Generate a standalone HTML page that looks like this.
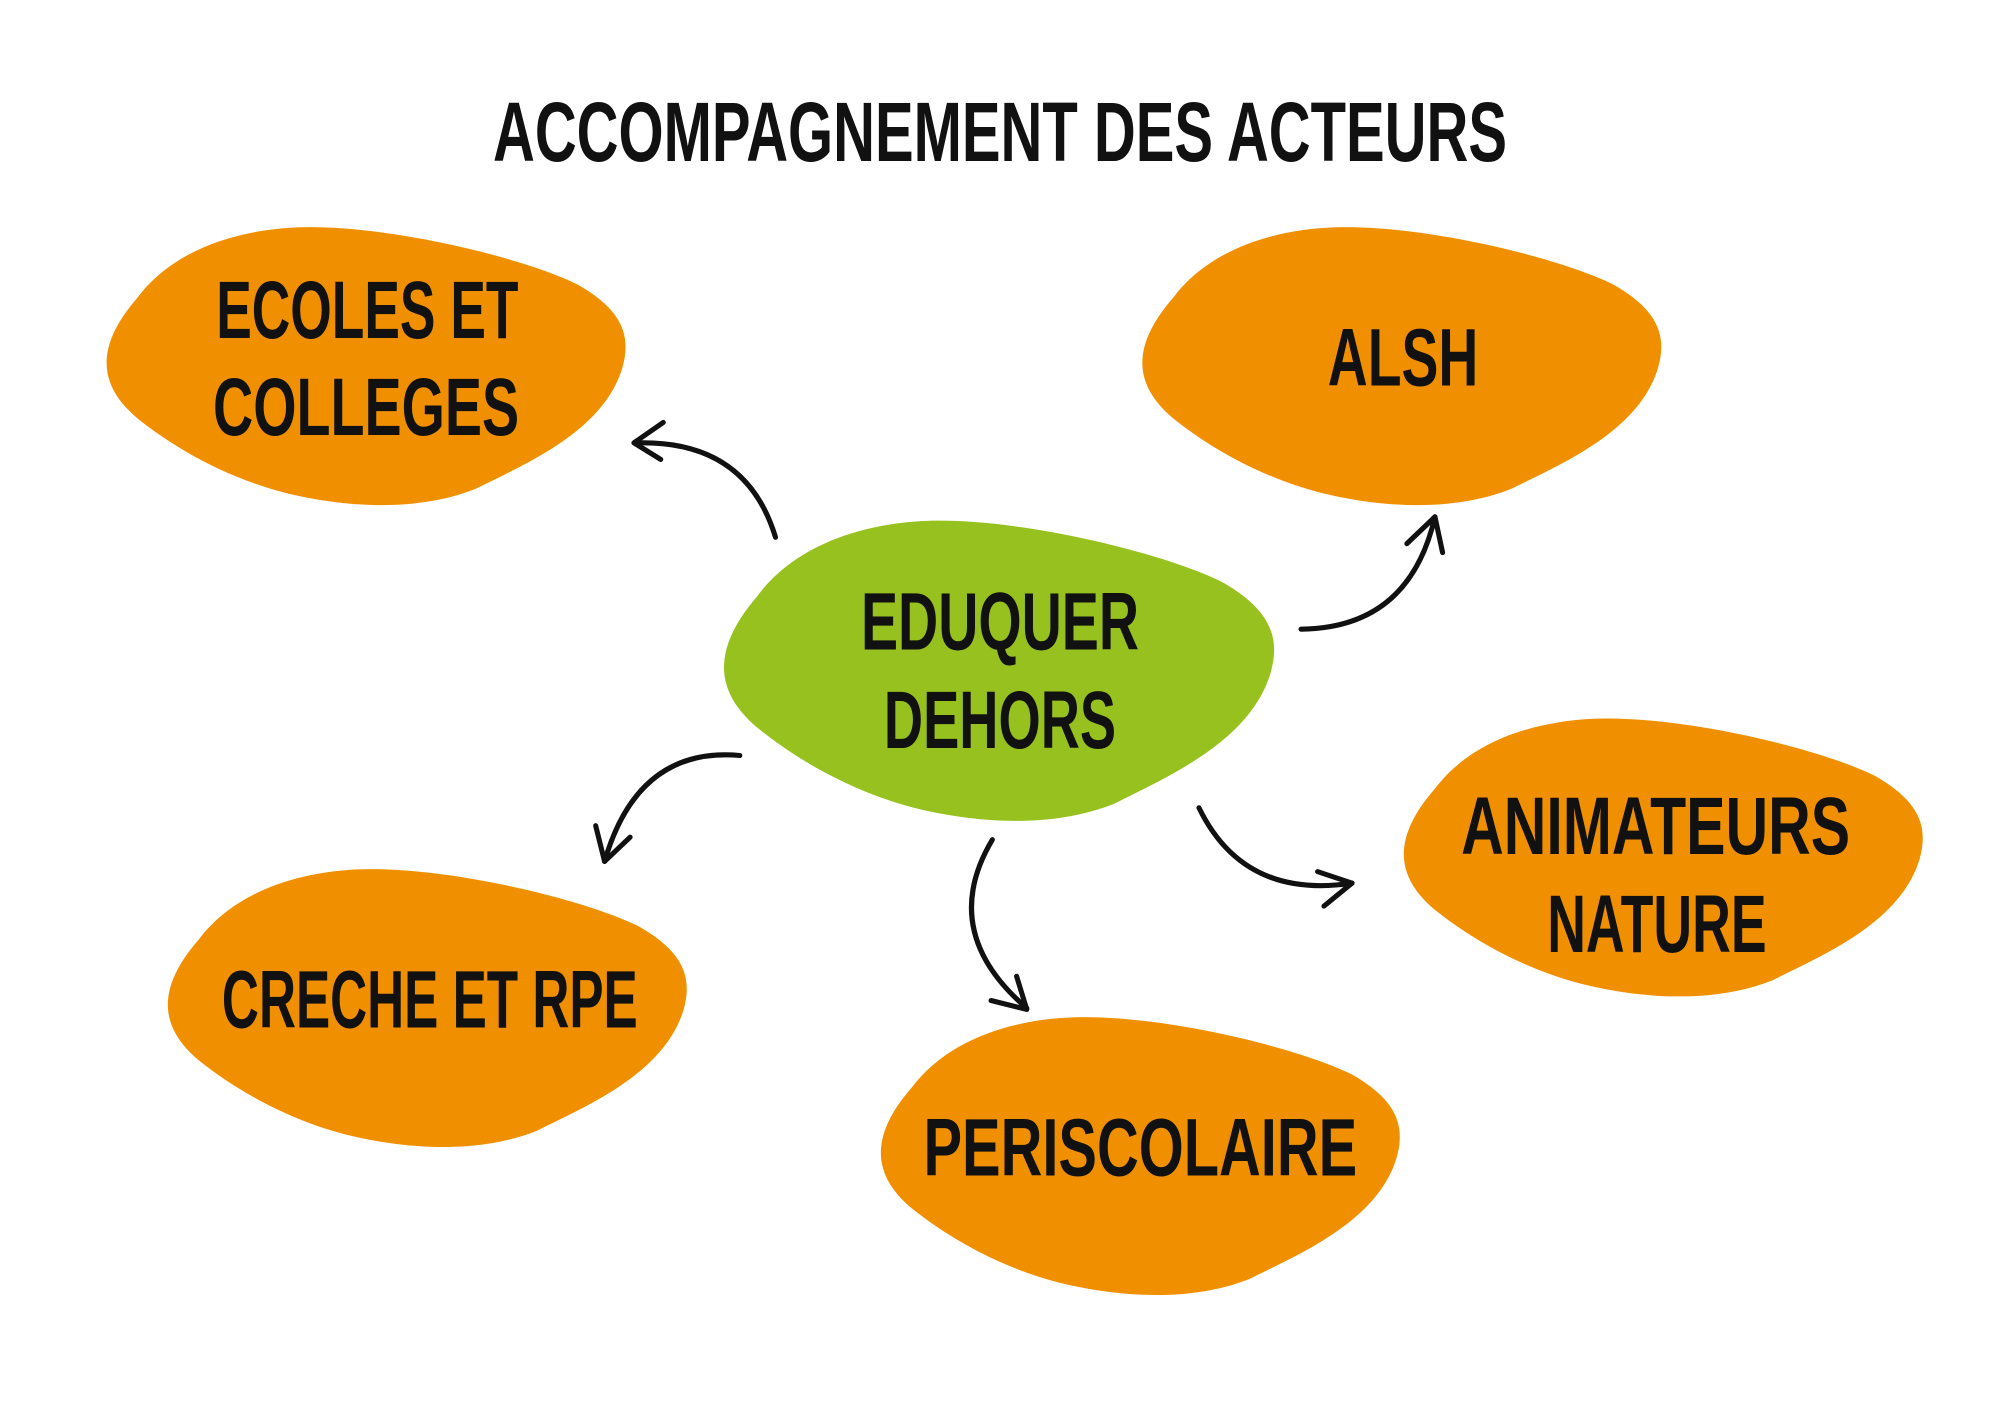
<!DOCTYPE html>
<html><head><meta charset="utf-8"><style>
html,body{margin:0;padding:0;background:#fff;width:2000px;height:1414px;overflow:hidden}
svg{display:block}
text{font-family:"Liberation Sans",sans-serif;font-weight:bold;fill:#111;text-anchor:middle}
</style></head><body>
<svg width="2000" height="1414" viewBox="0 0 1568 1108" preserveAspectRatio="none" xmlns="http://www.w3.org/2000/svg">
<defs>
<path id="blob" d="M 25,55 C 55,15 110,0 160,0 C 230,0 330,25 370,45 C 405,65 412,85 405,110 C 390,160 330,185 290,205 C 240,225 180,218 140,208 C 90,195 50,170 25,150 C -5,125 -10,95 25,55 Z"/>
</defs>
<use href="#blob" transform="translate(83,178)" fill="#f09000"/>
<use href="#blob" transform="translate(895,178)" fill="#f09000"/>
<use href="#blob" transform="translate(1100,563)" fill="#f09000"/>
<use href="#blob" transform="translate(131,681)" fill="#f09000"/>
<use href="#blob" transform="translate(690,797)" fill="#f09000"/>
<use href="#blob" transform="translate(567,408) scale(1.06,1.08)" fill="#97c11f"/>

<text x="784" y="126" font-size="66" textLength="795" lengthAdjust="spacingAndGlyphs">ACCOMPAGNEMENT DES ACTEURS</text>
<text x="288" y="265" font-size="64" textLength="237" lengthAdjust="spacingAndGlyphs">ECOLES ET</text>
<text x="287" y="341" font-size="64" textLength="240" lengthAdjust="spacingAndGlyphs">COLLEGES</text>
<text x="1100" y="302" font-size="64" textLength="118" lengthAdjust="spacingAndGlyphs">ALSH</text>
<text x="784" y="509" font-size="64" textLength="218" lengthAdjust="spacingAndGlyphs">EDUQUER</text>
<text x="784" y="586" font-size="64" textLength="182" lengthAdjust="spacingAndGlyphs">DEHORS</text>
<text x="1298" y="669" font-size="64" textLength="305" lengthAdjust="spacingAndGlyphs">ANIMATEURS</text>
<text x="1299" y="746" font-size="64" textLength="172" lengthAdjust="spacingAndGlyphs">NATURE</text>
<text x="337" y="805" font-size="64" textLength="326" lengthAdjust="spacingAndGlyphs">CRECHE ET RPE</text>
<text x="894" y="921" font-size="64" textLength="340" lengthAdjust="spacingAndGlyphs">PERISCOLAIRE</text>

<g fill="none" stroke="#111" stroke-width="4" stroke-linecap="round" stroke-linejoin="round">
<path d="M608,421 Q585,345 500,347"/><path d="M520,331 L497,347 L518,360"/>
<path d="M1020,493 Q1105,492 1125,405"/><path d="M1103,426 L1125,405 L1131,433"/>
<path d="M580,592 Q500,585 474,675"/><path d="M467,647 L474,675 L494,656"/>
<path d="M778,658 Q735,730 805,790"/><path d="M777,784 L805,791 L797,765"/>
<path d="M940,633 Q975,705 1060,692"/><path d="M1033,683 L1060,692 L1038,710"/>
</g>
</svg>
</body></html>
